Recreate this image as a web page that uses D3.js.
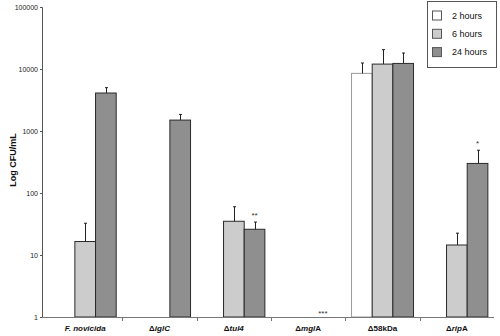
<!DOCTYPE html>
<html>
<head>
<meta charset="utf-8">
<script src="https://cdn.jsdelivr.net/npm/d3@7"></script>
<style>
  body { margin: 0; background: #fff; }
  svg { font-family: "Liberation Sans", Arial, sans-serif; }
</style>
</head>
<body>
<div id="chart"></div>
<script>
// bacterial counts per strain at 3 time points (log scale)
const categories = ['fnov', 'iglC', 'tul4', 'mglA', 'kda58', 'ripA'];
// label pieces: [text, italic]
const categoryLabels = [
  [['F. novicida', true]],
  [['\u0394', false], ['iglC', true]],
  [['\u0394', false], ['tul4', true]],
  [['\u0394', false], ['mgl', true], ['A', false]],
  [['\u0394', false], ['58kDa', false]],
  [['\u0394', false], ['rip', true], ['A', false]]
];
const seriesNames = ['2 hours', '6 hours', '24 hours'];
const hours2 = [null, null, null, null, 8500, null];
const hours6 = [16.5, null, 35, null, 12000, 14.5];
const hours24 = [4100, 1500, 26, null, 12300, 300];
const err2 = [null, null, null, null, 4000, null];
const err6 = [16, null, 25, null, 8500, 8];
const err24 = [900, 350, 8, null, 5800, 190];
const yTicks = [1, 10, 100, 1000, 10000, 100000];
// significance marks: [category, series index, text]
const marks = [['tul4', 2, '**'], ['mglA', 2, '***'], ['ripA', 2, '*']];

const width = 500, height = 336;
const fills = ['#ffffff', '#cccccc', '#8f8f8f'];
const strokes = ['#9a9a9a', '#2a2a2a', '#2a2a2a'];

const svg = d3.select('#chart').append('svg')
  .attr('width', width).attr('height', height);

const y = d3.scaleLog().domain([1, 100000]).range([317, 7]);
const x = d3.scaleBand().domain(categories).range([48, 494]);
const x1 = d3.scaleBand().domain(d3.range(3)).range([6.2, 6.2 + 62]);

const values = [hours2, hours6, hours24];
const errors = [err2, err6, err24];
const rows = [];
values.forEach((arr, s) => arr.forEach((v, i) => {
  if (v != null) rows.push({cat: categories[i], s: s, v: v, e: errors[s][i]});
}));

// bars
svg.append('g').selectAll('rect').data(rows).join('rect')
  .attr('x', d => x(d.cat) + x1(d.s))
  .attr('y', d => y(d.v))
  .attr('width', x1.bandwidth())
  .attr('height', d => y(1) - y(d.v))
  .attr('fill', d => fills[d.s])
  .attr('stroke', d => strokes[d.s])
  .attr('stroke-width', 1);

// error bars
const eb = svg.append('g').attr('stroke', '#222').attr('stroke-width', 1);
rows.filter(d => d.e != null).forEach(d => {
  const cx = Math.round(x(d.cat) + x1(d.s) + x1.bandwidth() / 2) + 0.5;
  eb.append('line').attr('x1', cx).attr('x2', cx)
    .attr('y1', y(d.v)).attr('y2', y(d.v + d.e));
  eb.append('line').attr('x1', cx - 1.5).attr('x2', cx + 1.5)
    .attr('y1', y(d.v + d.e)).attr('y2', y(d.v + d.e));
});

// significance marks
svg.append('g').selectAll('text').data(marks).join('text')
  .attr('x', d => x(d[0]) + x1(d[1]) + x1.bandwidth() / 2 - (d[0] === 'mglA' ? 6 : 0))
  .attr('y', d => {
    const i = categories.indexOf(d[0]);
    const v = values[d[1]][i];
    if (v == null) return 316;
    return y(v + (errors[d[1]][i] || 0)) - 4;
  })
  .attr('text-anchor', 'middle')
  .attr('font-size', 8)
  .attr('fill', '#333')
  .text(d => d[2]);

// y axis
const yAxis = svg.append('g').attr('transform', 'translate(42,0)')
  .call(d3.axisLeft(y).tickValues(yTicks).tickFormat(d3.format('d')).tickSize(2).tickPadding(2));
yAxis.select('.domain').attr('stroke', '#555');
yAxis.selectAll('.tick line').attr('stroke', '#555');
yAxis.selectAll('.tick text').attr('font-size', 7).attr('fill', '#222')
  .attr('font-family', '"Liberation Sans", Arial, sans-serif');

// x axis line and separators
const xa = svg.append('g').attr('stroke', '#777').attr('stroke-width', 1);
xa.append('line').attr('x1', 42).attr('x2', 494).attr('y1', y(1) + 0.5).attr('y2', y(1) + 0.5);
xa.selectAll('line.sep').data(categories.slice(1)).join('line')
  .attr('class', 'sep')
  .attr('x1', d => Math.round(x(d)) + 0.5).attr('x2', d => Math.round(x(d)) + 0.5)
  .attr('y1', y(1)).attr('y2', y(1) + 4);

// category labels
const lab = svg.append('g').selectAll('text').data(categories).join('text')
  .attr('x', d => x(d) + x.bandwidth() / 2)
  .attr('y', 331)
  .attr('text-anchor', 'middle')
  .attr('font-size', 8)
  .attr('font-weight', 'bold')
  .attr('fill', '#111');
lab.each(function(d, i) {
  d3.select(this).selectAll('tspan').data(categoryLabels[i]).join('tspan')
    .attr('font-style', p => p[1] ? 'italic' : 'normal')
    .text(p => p[0]);
});

// y title
svg.append('text')
  .attr('transform', 'translate(16,160) rotate(-90)')
  .attr('text-anchor', 'middle')
  .attr('font-size', 9)
  .attr('font-weight', 'bold')
  .attr('fill', '#111')
  .text('Log CFU/mL');

// legend
const lg = svg.append('g');
lg.append('rect').attr('x', 427.5).attr('y', 1.5).attr('width', 69).attr('height', 66)
  .attr('fill', '#fff').attr('stroke', '#555');
const li = lg.selectAll('g.item').data(seriesNames).join('g')
  .attr('class', 'item')
  .attr('transform', (d, i) => 'translate(0,' + (15.5 + i * 18.3) + ')');
li.append('rect').attr('x', 432.5).attr('y', -4.5).attr('width', 9).attr('height', 9)
  .attr('fill', (d, i) => fills[i]).attr('stroke', '#555');
li.append('text').attr('x', 452).attr('y', 3.2)
  .attr('font-size', 9).attr('fill', '#111').text(d => d);
</script>
</body>
</html>
